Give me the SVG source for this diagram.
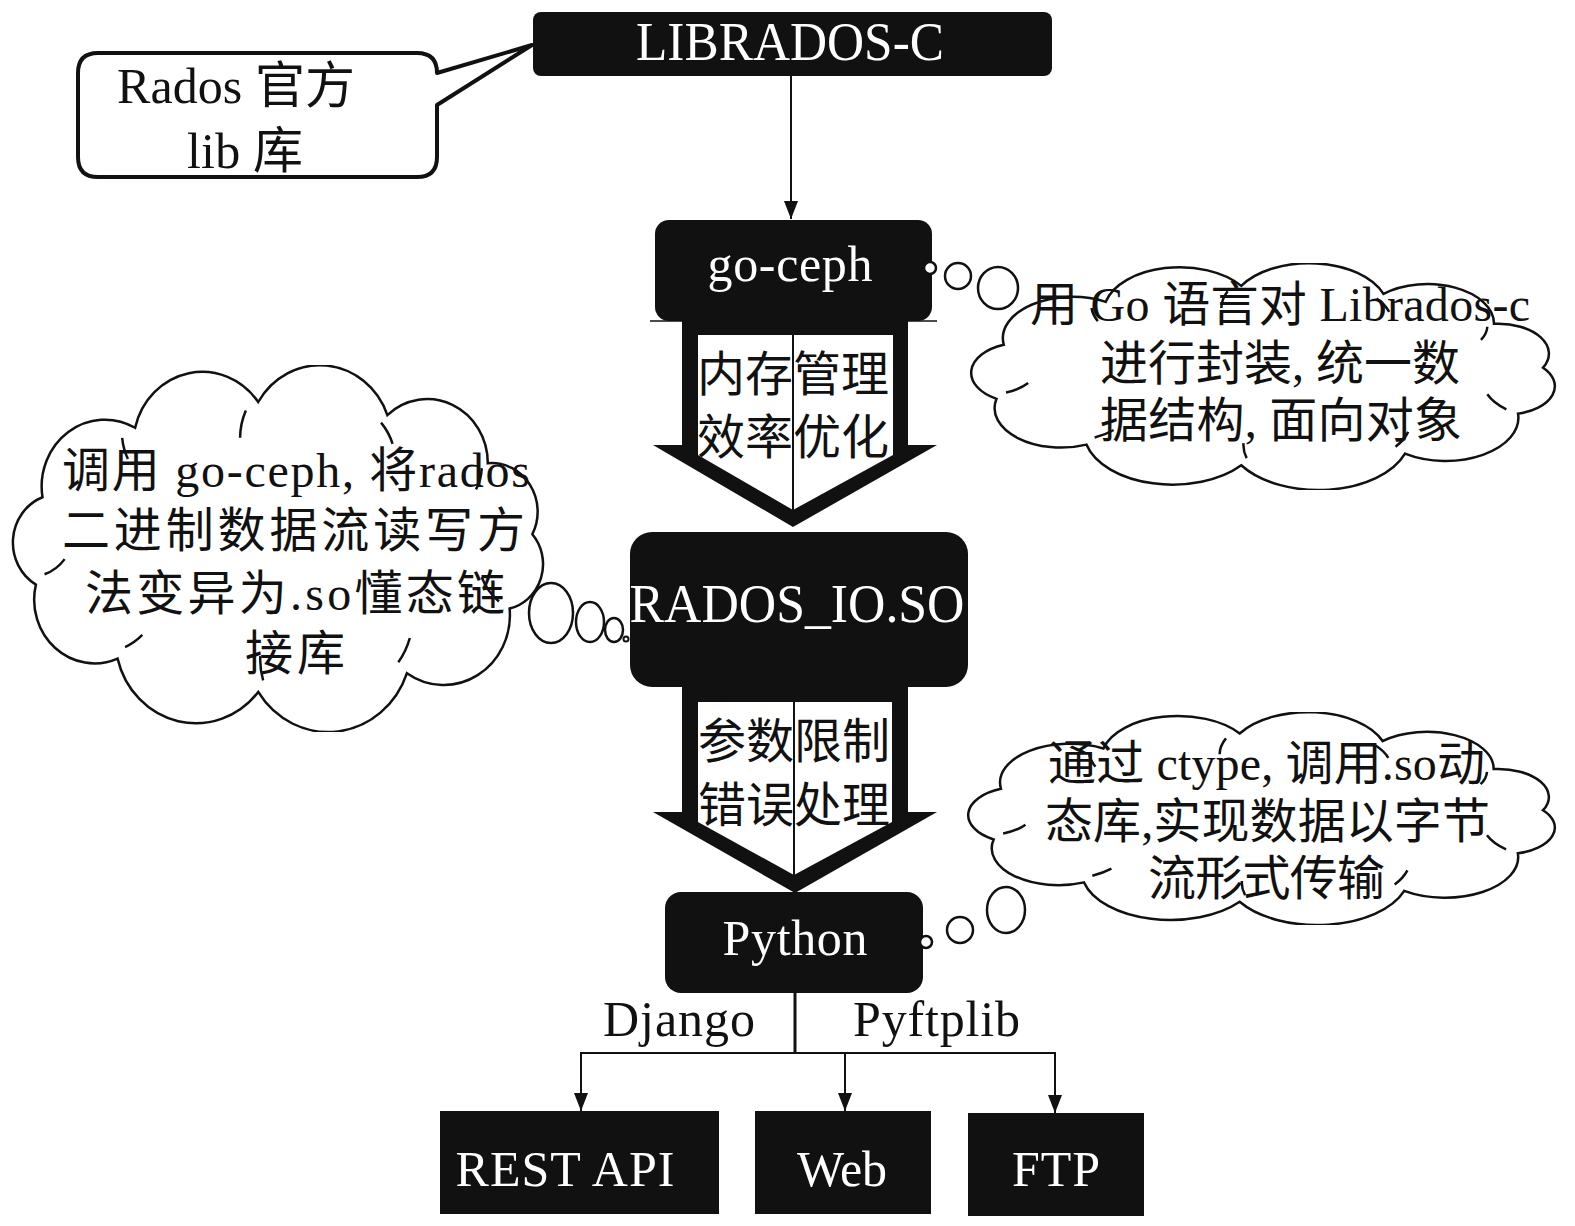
<svg xmlns="http://www.w3.org/2000/svg" xmlns:xlink="http://www.w3.org/1999/xlink" width="1575" height="1226" viewBox="0 0 1575 1226">
<style>
.box{fill:#111;}
.wt{fill:#fff;font-family:'Liberation Serif','Noto Sans CJK SC',serif;font-size:50px;text-anchor:middle;}
.bt{fill:#111;font-family:'Liberation Serif','Noto Sans CJK SC',serif;font-size:48px;}
.ct{text-anchor:middle;}
.ln{stroke:#111;stroke-width:2;fill:none;}
.bub{fill:#fff;stroke:#111;stroke-width:2.5;}
.cloudp{fill:#fff;stroke:#111;stroke-width:2.5;vector-effect:non-scaling-stroke;}
</style>
<defs>
<symbol id="cloud" viewBox="6 0 186 121" preserveAspectRatio="none">
<path class="cloudp" d="M17.3 43.6 A22 22 0 0 1 49.5 20.7 A24 24 0 0 1 92.3 12.2 A25 25 0 0 1 137.2 16.5 A21 21 0 0 1 172.1 32.4 A16 16 0 0 1 187.6 55.8 A15 15 0 0 1 179.7 80.3 A23 23 0 0 1 144 101.6 A29 29 0 0 1 92.3 107.8 A28 28 0 0 1 43.4 96.8 A21 21 0 0 1 15 72.4 A16 16 0 0 1 17.3 43.6 Z"/>
<path class="cloudp" style="fill:none" d="M45 24 A20 20 0 0 0 47 31 M88 15 A22 22 0 0 0 86 24 M135 19 A20 20 0 0 1 139 26 M170 34 A15 15 0 0 1 168 41 M176 78 A20 20 0 0 1 170 70 M141 98 A25 25 0 0 0 145 90 M94 104 A24 24 0 0 1 93 96 M46 93 A20 20 0 0 0 52 89 M18 69 A15 15 0 0 0 25 64"/>
</symbol>
<marker id="ah" viewBox="0 0 18 14" refX="18" refY="7" markerWidth="18" markerHeight="14" markerUnits="userSpaceOnUse" orient="auto">
<path d="M0 0 L18 7 L0 14 Z" fill="#111"/>
</marker>
</defs>

<g id="connectors">
<line class="ln" x1="791" y1="76" x2="791" y2="219" marker-end="url(#ah)"/>
<line class="ln" x1="650" y1="321" x2="937" y2="321" style="stroke-width:1.5"/>
<g id="arrow1">
<polygon class="box" points="682,320 908,320 908,445 937,445 793,527 653,445 682,445"/>
<polygon fill="#fff" points="698,335 893,335 893,455 793,510 698,455"/>
<line class="ln" x1="793" y1="335" x2="793" y2="512"/>
<text class="bt ct" x="793" y="391">内存管理</text>
<text class="bt ct" x="793" y="454">效率优化</text>
</g>
<g id="arrow2">
<polygon class="box" points="682,686 908,686 908,812 937,812 795,893 653,812 682,812"/>
<polygon fill="#fff" points="698,702 892,702 892,822 794,875 698,822"/>
<line class="ln" x1="794" y1="702" x2="794" y2="877"/>
<text class="bt ct" x="794" y="758">参数限制</text>
<text class="bt ct" x="794" y="822">错误处理</text>
</g>
<line class="ln" x1="795" y1="993" x2="795" y2="1053" style="stroke-width:3"/>
<line class="ln" x1="580" y1="1053" x2="1056" y2="1053"/>
<line class="ln" x1="581" y1="1053" x2="581" y2="1111" marker-end="url(#ah)"/>
<line class="ln" x1="845" y1="1053" x2="845" y2="1111" marker-end="url(#ah)"/>
<line class="ln" x1="1055" y1="1053" x2="1055" y2="1113" marker-end="url(#ah)"/>
<text class="bt" x="603" y="1036" style="font-size:50px" textLength="152">Django</text>
<text class="bt" x="853" y="1036" style="font-size:50px" textLength="167">Pyftplib</text>
</g>

<g id="callout-rados">
<path d="M98 53 H417 Q437 53 437 73 L532 45 L437 105 V157 Q437 177 417 177 H98 Q78 177 78 157 V73 Q78 53 98 53 Z" fill="#fff" stroke="#111" stroke-width="4" stroke-linejoin="round"/>
<text class="bt" x="117" y="103" style="font-size:50px" textLength="238">Rados 官方</text>
<text class="bt" x="187" y="168" style="font-size:50px" textLength="116">lib 库</text>
</g>

<g id="node-librados">
<rect class="box" x="533" y="12" width="519" height="64" rx="8"/>
<text class="wt" x="790" y="60" textLength="308" lengthAdjust="spacingAndGlyphs" style="font-size:54px">LIBRADOS-C</text>
</g>
<g id="node-goceph">
<rect class="box" x="655" y="220" width="277" height="101" rx="14"/>
<text class="wt" x="790" y="281" textLength="165">go-ceph</text>
</g>
<g id="node-radosio">
<rect class="box" x="630" y="532" width="338" height="155" rx="22"/>
<text class="wt" x="797" y="622" textLength="335" lengthAdjust="spacingAndGlyphs" style="font-size:54px">RADOS_IO.SO</text>
</g>
<g id="node-python">
<rect class="box" x="665" y="892" width="258" height="101" rx="16"/>
<text class="wt" x="795" y="955" textLength="145">Python</text>
</g>
<g id="node-rest">
<rect class="box" x="440" y="1111" width="279" height="103"/>
<text class="wt" x="565" y="1186" textLength="219">REST API</text>
</g>
<g id="node-web">
<rect class="box" x="755" y="1111" width="176" height="103"/>
<text class="wt" x="842" y="1186" textLength="90">Web</text>
</g>
<g id="node-ftp">
<rect class="box" x="968" y="1113" width="176" height="103"/>
<text class="wt" x="1056" y="1186" textLength="88">FTP</text>
</g>

<g id="cloud-goceph">
<circle class="bub" cx="930" cy="268" r="6"/>
<circle class="bub" cx="958" cy="276" r="13"/>
<ellipse class="bub" cx="998" cy="288" rx="20" ry="21"/>
<use xlink:href="#cloud" href="#cloud" x="968" y="263" width="589" height="227"/>
<text class="bt" x="1030" y="321" textLength="500">用 Go 语言对 Librados-c</text>
<text class="bt" x="1100" y="380" textLength="360">进行封装, 统一数</text>
<text class="bt" x="1100" y="437" textLength="362">据结构, 面向对象</text>
</g>

<g id="cloud-radosio">
<ellipse class="bub" cx="551" cy="613" rx="22" ry="30"/>
<ellipse class="bub" cx="590" cy="622" rx="14" ry="20"/>
<ellipse class="bub" cx="614" cy="630" rx="9" ry="12"/>
<circle class="bub" cx="626" cy="639" r="2.5" style="stroke-width:2"/>
<use xlink:href="#cloud" href="#cloud" x="10" y="365" width="535" height="367"/>
<text class="bt" x="62" y="487" textLength="468">调用 go-ceph, 将rados</text>
<text class="bt" x="62" y="547" textLength="463">二进制数据流读写方</text>
<text class="bt" x="85" y="610" textLength="420">法变异为.so懂态链</text>
<text class="bt" x="245" y="670" textLength="100">接库</text>
</g>

<g id="cloud-python">
<circle class="bub" cx="926" cy="942" r="6"/>
<circle class="bub" cx="960" cy="930" r="13"/>
<ellipse class="bub" cx="1006" cy="910" rx="19" ry="23"/>
<use xlink:href="#cloud" href="#cloud" x="965" y="712" width="592" height="213"/>
<text class="bt" x="1048" y="780" textLength="437">通过 ctype, 调用.so动</text>
<text class="bt" x="1045" y="838" textLength="445">态库,实现数据以字节</text>
<text class="bt" x="1148" y="895" textLength="237">流形式传输</text>
</g>
</svg>
